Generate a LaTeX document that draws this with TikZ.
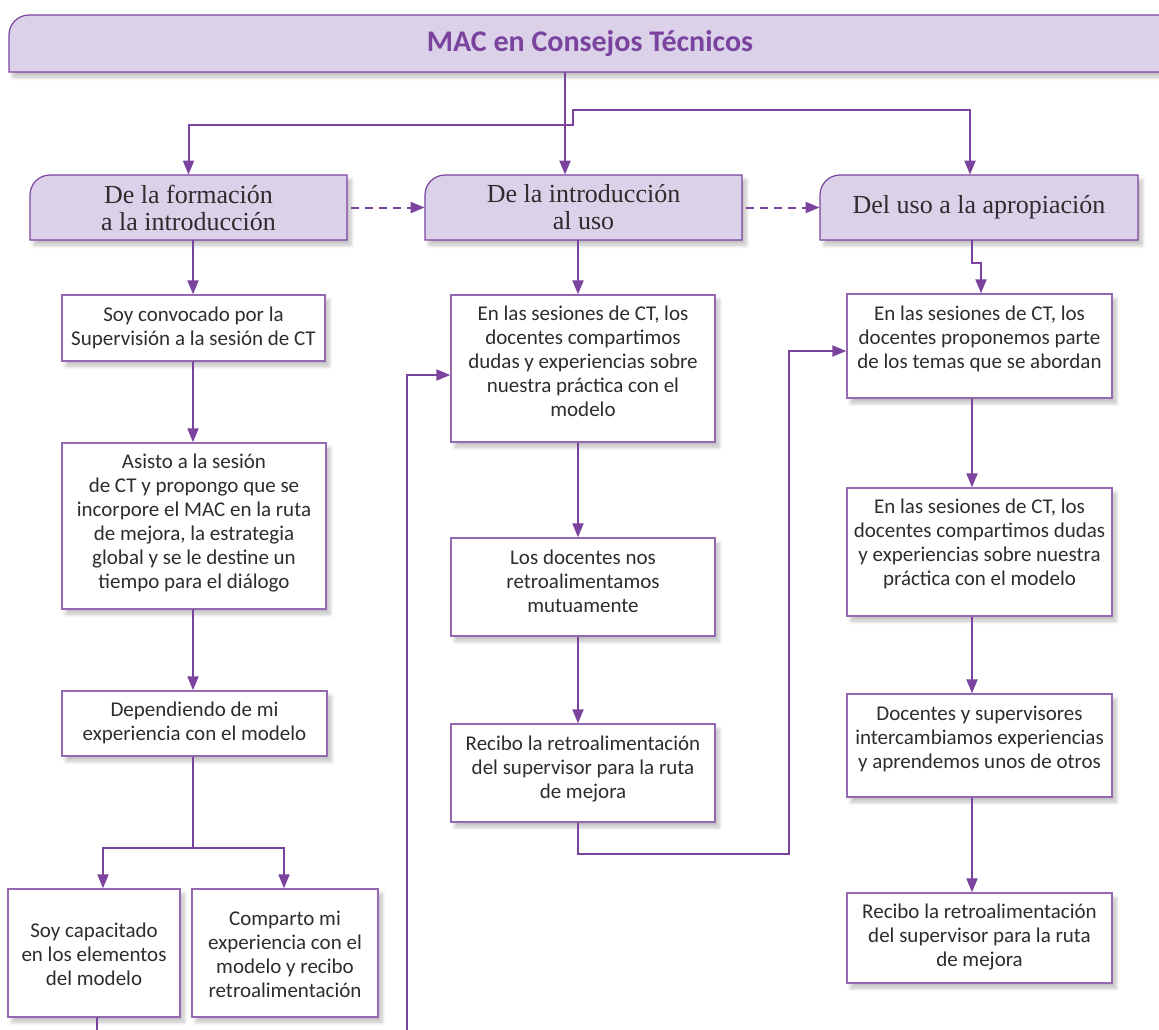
\documentclass[tikz,border=0pt]{standalone}
\usepackage{fontspec}
\setmainfont{Carlito}
\newfontfamily\headfont{Liberation Serif}
\usetikzlibrary{arrows.meta,shadows.blur}

\definecolor{mac}{RGB}{122,68,158}
\definecolor{lila}{RGB}{219,209,233}
\definecolor{ink}{RGB}{45,45,45}
% centred lines, raised by half the optional space
\newcommand\boxlines[2][0pt]{\begin{tabular}{@{}c@{}}#2\\[#1]\end{tabular}}

\tikzset{
  wh/.style 2 args={minimum width=#1*0.5pt, minimum height=#2*0.5pt},
  soft/.style={blur shadow={shadow xshift=2pt, shadow yshift=-2.5pt,
      shadow blur steps=6, shadow opacity=25}},
  textbox/.style={draw=mac!80, line width=0.7pt, fill=white, soft,
      text=ink, inner sep=0pt, font=\fontsize{10.5}{12}\selectfont},
  headbox/.style={align=center, text=ink, inner sep=0pt,
      font=\headfont\fontsize{13}{13.5}\selectfont},
  headframe/.style={fill=lila, draw=mac, line width=0.6pt, soft},
  flow/.style={draw=mac, line width=1pt},
  arr/.style={flow, -{Triangle[length=7pt, width=5.5pt]}},
  twoway/.style={flow, {Triangle[length=7pt, width=5.5pt]}-{Triangle[length=7pt, width=5.5pt]}},
  dasharr/.style={arr, dash pattern=on 4pt off 3pt},
}

\begin{document}
\begin{tikzpicture}[x=0.5pt, y=-0.5pt]
\useasboundingbox (0,0) rectangle (1159,1029);

% frames with one rounded corner
\draw[headframe] (9,72) -- (9,35) arc[start angle=180, end angle=90, radius=10pt]
  -- (1171,15) -- (1171,72) -- cycle;
\foreach \cx/\w in {188.5/317, 583.5/317, 979/318}
  \draw[headframe] (\cx-\w/2,240) -- (\cx-\w/2,195)
    arc[start angle=180, end angle=90, radius=10pt]
    -- (\cx+\w/2,175) -- (\cx+\w/2,240) -- cycle;

\node[wh={1162}{57}, inner sep=0pt, text=mac, font=\bfseries\fontsize{15}{18}\selectfont]
  (title) at (590,43.5) {MAC en Consejos Técnicos};

\node[headbox, wh={317}{65}] (h1) at (188.5,207.5) {De la formación\\a la introducción};
\node[headbox, wh={317}{65}] (h2) at (583.5,207.5) {De la introducción\\al uso};
\node[headbox, wh={318}{65}] (h3) at (979,207.5) {Del uso a la apropiación};

%%%%%%%%%%%%%%%%%%%%%%%%%%%%%%%%%%%%%%%%

\node[textbox, wh={263}{66}] (l1) at (193.5,328)
  {\boxlines[-0.5pt]{Soy convocado por la\\Supervisión a la sesión de CT}};
\node[textbox, wh={264}{166}] (l2) at (194,526)
  {\boxlines[2.5pt]{Asisto a la sesión\\de CT y propongo que se\\incorpore el MAC en la ruta\\de mejora, la estrategia\\global y se le destine un\\tiempo para el diálogo}};
\node[textbox, wh={265}{65}] (l3) at (194.5,723.5)
  {\boxlines[-0.5pt]{Dependiendo de mi\\experiencia con el modelo}};
\node[textbox, wh={172}{128}] (l4) at (94,953)
  {\boxlines[-3.5pt]{Soy capacitado\\en los elementos\\del modelo}};
\node[textbox, wh={186}{128}] (l5) at (285,953)
  {\boxlines[-3.5pt]{Comparto mi\\experiencia con el\\modelo y recibo\\retroalimentación}};

\node[textbox, wh={264}{147}] (m1) at (583,368.5)
  {\boxlines[4.5pt]{En las sesiones de CT, los\\docentes compartimos\\dudas y experiencias sobre\\nuestra práctica con el\\modelo}};
\node[textbox, wh={264}{98}] (m2) at (583,587)
  {\boxlines[3.5pt]{Los docentes nos\\retroalimentamos\\mutuamente}};
\node[textbox, wh={264}{98}] (m3) at (583,773)
  {\boxlines[3.5pt]{Recibo la retroalimentación\\del supervisor para la ruta\\de mejora}};

\node[textbox, wh={265}{104}] (r1) at (979.5,346)
  {\boxlines[6.5pt]{En las sesiones de CT, los\\docentes proponemos parte\\de los temas que se abordan}};
\node[textbox, wh={265}{128}] (r2) at (979.5,552)
  {\boxlines[7.5pt]{En las sesiones de CT, los\\docentes compartimos dudas\\y experiencias sobre nuestra\\práctica con el modelo}};
\node[textbox, wh={265}{103}] (r3) at (979.5,745.5)
  {\boxlines[5.5pt]{Docentes y supervisores\\intercambiamos experiencias\\y aprendemos unos de otros}};
\node[textbox, wh={265}{90}] (r4) at (979.5,938)
  {\boxlines[0.5pt]{Recibo la retroalimentación\\del supervisor para la ruta\\de mejora}};

%%%%%%%%%%%%%%%%%%%%%%%%%%%%%%%%%%%%%%%%

\coordinate (trunk) at (565,0);
\coordinate (jogA) at (573,125);
\coordinate (jogB) at (970,110);
\draw[arr] (title.south -| trunk) -- (h2.north -| trunk);
\draw[twoway] (h1.north) |- (jogA) |- (jogB) -- (h3.north -| jogB);
\draw[dasharr] ([xshift=2pt]h1.east) -- (h2.west);
\draw[dasharr] ([xshift=2pt]h2.east) -- (h3.west);

\coordinate (colL) at (193,0);
\coordinate (colM) at (578,0);
\coordinate (colR) at (972,0);

\draw[arr] (h1.south -| colL) -- (l1.north -| colL);
\draw[arr] (l1.south -| colL) -- (l2.north -| colL);
\draw[arr] (l2.south -| colL) -- (l3.north -| colL);
\coordinate (split) at (193,848);
\coordinate (splitL) at (103,848);
\coordinate (splitR) at (284,848);
\draw[flow] (l3.south -| colL) -- (split);
\draw[arr] (split) -- (splitL) -- (l4.north -| splitL);
\draw[arr] (split) -- (splitR) -- (l5.north -| splitR);
\coordinate (exitL) at (97,1032);
\draw[flow] (l4.south -| exitL) -- (exitL);

\coordinate (exitM) at (407,1032);
\coordinate (backM) at (407,375);
\draw[arr] (exitM) -- (backM) -- (m1.west |- backM);
\draw[arr] (h2.south -| colM) -- (m1.north -| colM);
\draw[arr] (m1.south -| colM) -- (m2.north -| colM);
\draw[arr] (m2.south -| colM) -- (m3.north -| colM);
\coordinate (loopB) at (789,854);
\coordinate (backR) at (789,351);
\draw[arr] (m3.south -| colM) |- (loopB) -- (backR) -- (r1.west |- backR);

\coordinate (kink) at (981,263);
\draw[arr] (h3.south -| colR) |- (kink) -- (r1.north -| kink);
\draw[arr] (r1.south -| colR) -- (r2.north -| colR);
\draw[arr] (r2.south -| colR) -- (r3.north -| colR);
\draw[arr] (r3.south -| colR) -- (r4.north -| colR);

\end{tikzpicture}
\end{document}
